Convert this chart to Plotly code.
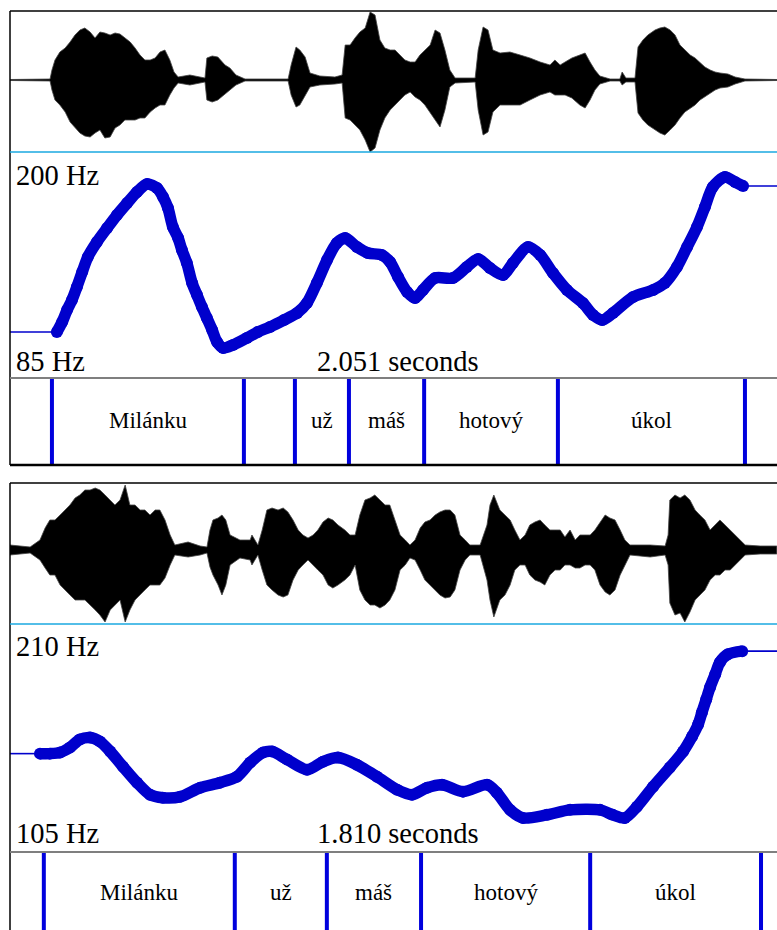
import plotly.graph_objects as go

# ---------------- utterance 1: "Milánku už máš hotový úkol" ----------------
DUR_1 = 2.051
F0_RANGE_1 = (85, 200)

f0_time_1 = [0.124, 0.138, 0.151, 0.164, 0.177, 0.191, 0.206, 0.230, 0.257, 0.283,
             0.310, 0.336, 0.363, 0.389, 0.405, 0.418, 0.431, 0.445, 0.455, 0.468,
             0.482, 0.495, 0.508, 0.521, 0.535, 0.548, 0.564, 0.590, 0.627, 0.656,
             0.688, 0.725, 0.760, 0.786, 0.812, 0.839, 0.865, 0.887, 0.918, 0.947,
             0.984, 1.006, 1.027, 1.051, 1.072, 1.093, 1.125, 1.172, 1.209, 1.239,
             1.270, 1.305, 1.331, 1.371, 1.403, 1.437, 1.474, 1.516, 1.543, 1.567,
             1.596, 1.649, 1.702, 1.733, 1.765, 1.792, 1.818, 1.839, 1.860, 1.892,
             1.919, 1.940]
f0_hz_1 = [108.4, 113.5, 119.6, 124.7, 131.3, 138.9, 146.6, 154.2, 161.3, 167.9,
           174.0, 179.6, 183.7, 181.7, 177.1, 171.5, 161.8, 156.2, 150.1, 143.5,
           133.3, 127.2, 121.1, 115.5, 109.4, 103.3, 100.3, 101.8, 105.4, 108.4,
           111.0, 114.5, 118.1, 123.2, 133.3, 145.0, 153.7, 156.2, 151.7, 148.6,
           147.6, 144.0, 136.4, 128.8, 125.7, 129.8, 135.9, 135.9, 141.5, 145.6,
           141.0, 137.4, 143.5, 151.7, 147.6, 138.4, 129.8, 123.2, 117.1, 114.5,
           118.1, 126.2, 129.8, 133.3, 141.5, 151.7, 161.8, 172.0, 182.2, 187.3,
           184.7, 182.7]

# waveform amplitude envelope (arbitrary sample units)
WAVE_RANGE_1 = (-72, 69)
wave_time_1 = [0.000, 0.106, 0.111, 0.119, 0.132, 0.146, 0.159, 0.172, 0.185, 0.198,
               0.212, 0.225, 0.238, 0.251, 0.265, 0.278, 0.291, 0.304, 0.318, 0.331,
               0.344, 0.357, 0.371, 0.384, 0.397, 0.410, 0.423, 0.434, 0.445, 0.476,
               0.503, 0.516, 0.521, 0.535, 0.550, 0.569, 0.582, 0.598, 0.622, 0.736,
               0.744, 0.757, 0.767, 0.781, 0.794, 0.820, 0.860, 0.879, 0.887, 0.900,
               0.913, 0.926, 0.940, 0.953, 0.966, 0.979, 0.992, 1.006, 1.019, 1.032,
               1.045, 1.059, 1.072, 1.085, 1.098, 1.112, 1.125, 1.138, 1.151, 1.164,
               1.178, 1.231, 1.239, 1.252, 1.265, 1.278, 1.297, 1.323, 1.350, 1.376,
               1.403, 1.429, 1.442, 1.456, 1.469, 1.487, 1.508, 1.522, 1.535, 1.548,
               1.561, 1.588, 1.614, 1.620, 1.630, 1.654, 1.662, 1.675, 1.688, 1.707,
               1.720, 1.733, 1.747, 1.760, 1.773, 1.786, 1.800, 1.813, 1.826, 1.839,
               1.853, 1.866, 1.879, 1.900, 1.919, 1.945, 2.030]
wave_max_1 = [0.5, 1, 10, 20, 28, 32, 38, 45, 50, 52,
              48, 42, 48, 47, 45, 47, 46, 42, 38, 32,
              25, 20, 20, 22, 28, 30, 20, 8, 3, 5,
              3, 2, 22, 24, 23, 15, 12, 5, 1, 1,
              15, 33, 30, 23, 7, 4, 3, 5, 35, 35,
              42, 48, 52, 68, 65, 40, 32, 30, 30, 25,
              20, 18, 18, 25, 30, 35, 50, 47, 30, 10,
              2, 2, 30, 53, 50, 30, 27, 28, 25, 22,
              18, 15, 20, 15, 18, 22, 25, 27, 18, 10,
              4, 1, 1, 8, 2, 2, 33, 40, 45, 50,
              52, 53, 50, 45, 35, 30, 25, 22, 17, 13,
              10, 8, 7, 6, 3, 1, 0.5]
wave_min_1 = [-0.5, -1, -10, -20, -25, -32, -42, -48, -53, -56,
              -57, -53, -50, -58, -57, -48, -45, -40, -40, -40,
              -38, -38, -32, -28, -25, -25, -15, -8, -3, -5,
              -3, -2, -20, -22, -20, -15, -10, -5, -1, -1,
              -15, -27, -25, -15, -7, -5, -4, -3, -38, -40,
              -45, -50, -60, -72, -68, -50, -38, -30, -25, -20,
              -15, -12, -17, -20, -25, -32, -40, -47, -30, -7,
              -3, -2, -30, -55, -52, -32, -25, -25, -25, -20,
              -15, -12, -15, -15, -15, -18, -25, -28, -20, -10,
              -4, -1, -1, -5, -2, -2, -33, -40, -45, -50,
              -53, -55, -50, -45, -38, -32, -28, -25, -20, -17,
              -13, -10, -8, -7, -4, -1, -0.5]

word_bounds_1 = [0.111, 0.619, 0.754, 0.897, 1.096, 1.450, 1.945]
word_labels_1 = ["Milánku", "", "už", "máš", "hotový", "úkol"]

# ---------------- utterance 2 ----------------
DUR_2 = 1.810
F0_RANGE_2 = (105, 210)

f0_time_2 = [0.070, 0.093, 0.117, 0.140, 0.163, 0.187, 0.210, 0.234, 0.264, 0.297,
             0.327, 0.357, 0.397, 0.444, 0.490, 0.530, 0.561, 0.591, 0.612, 0.647,
             0.694, 0.731, 0.766, 0.810, 0.857, 0.904, 0.939, 0.974, 1.009, 1.058,
             1.114, 1.137, 1.168, 1.198, 1.254, 1.308, 1.378, 1.408, 1.436, 1.464,
             1.502, 1.541, 1.572, 1.593, 1.607, 1.616, 1.626, 1.635, 1.647, 1.658,
             1.677, 1.710]
f0_hz_2 = [150.3, 150.3, 150.8, 153.1, 156.8, 157.7, 155.9, 151.3, 144.3, 136.9,
           131.4, 130.0, 130.4, 134.6, 136.9, 139.7, 146.2, 150.8, 151.3, 147.6,
           142.9, 146.6, 148.5, 145.2, 139.7, 133.7, 131.4, 134.6, 136.0, 132.8,
           136.0, 132.3, 124.4, 120.7, 122.1, 124.4, 124.4, 122.1, 120.7, 125.8,
           135.1, 143.9, 151.3, 158.2, 163.7, 169.3, 175.3, 180.9, 186.9, 192.4,
           196.1, 197.5]

WAVE_RANGE_2 = (-74, 67)
wave_time_2 = [0.000, 0.047, 0.070, 0.082, 0.093, 0.105, 0.117, 0.128, 0.140, 0.152,
               0.163, 0.175, 0.187, 0.199, 0.210, 0.222, 0.234, 0.245, 0.257, 0.269,
               0.280, 0.292, 0.304, 0.315, 0.327, 0.339, 0.350, 0.362, 0.374, 0.385,
               0.416, 0.444, 0.460, 0.467, 0.474, 0.486, 0.495, 0.504, 0.514, 0.537,
               0.561, 0.565, 0.579, 0.589, 0.600, 0.612, 0.626, 0.638, 0.649, 0.661,
               0.673, 0.684, 0.696, 0.708, 0.719, 0.731, 0.743, 0.754, 0.766, 0.782,
               0.794, 0.806, 0.817, 0.829, 0.841, 0.852, 0.864, 0.876, 0.887, 0.899,
               0.911, 0.923, 0.934, 0.946, 0.958, 0.969, 0.981, 0.993, 1.004, 1.016,
               1.028, 1.039, 1.051, 1.063, 1.074, 1.098, 1.102, 1.114, 1.121, 1.130,
               1.144, 1.156, 1.168, 1.179, 1.191, 1.203, 1.214, 1.226, 1.238, 1.249,
               1.261, 1.273, 1.285, 1.296, 1.308, 1.320, 1.331, 1.343, 1.355, 1.366,
               1.378, 1.390, 1.401, 1.413, 1.425, 1.436, 1.448, 1.495, 1.530, 1.537,
               1.541, 1.553, 1.565, 1.576, 1.588, 1.600, 1.611, 1.623, 1.635, 1.647,
               1.658, 1.670, 1.682, 1.693, 1.705, 1.717, 1.752, 1.791]
wave_max_2 = [5, 3, 10, 22, 30, 30, 35, 40, 45, 52,
              55, 60, 60, 62, 60, 55, 50, 45, 50, 65,
              45, 45, 40, 40, 35, 40, 40, 30, 15, 5,
              8, 4, 3, 20, 30, 32, 35, 30, 15, 10,
              10, 15, 5, 20, 40, 42, 40, 42, 38, 30,
              20, 15, 12, 15, 20, 28, 32, 30, 25, 20,
              15, 15, 35, 50, 52, 55, 50, 45, 45, 30,
              15, 10, 5, 10, 22, 28, 30, 35, 38, 40,
              40, 35, 15, 10, 5, 5, 10, 25, 45, 55,
              40, 35, 30, 20, 10, 15, 25, 28, 30, 25,
              20, 20, 20, 13, 20, 10, 15, 15, 15, 20,
              28, 35, 32, 30, 20, 10, 5, 5, 4, 15,
              50, 55, 52, 55, 50, 40, 35, 30, 20, 25,
              30, 25, 20, 15, 10, 5, 4, 4]
wave_min_2 = [-5, -3, -10, -18, -25, -25, -35, -40, -45, -50,
              -50, -50, -55, -60, -65, -72, -60, -55, -50, -72,
              -60, -50, -45, -40, -35, -35, -35, -28, -15, -5,
              -7, -5, -3, -17, -25, -35, -45, -35, -15, -8,
              -10, -15, -5, -20, -35, -40, -45, -47, -45, -30,
              -20, -15, -10, -15, -20, -25, -35, -38, -35, -30,
              -25, -15, -40, -50, -55, -55, -58, -55, -50, -40,
              -20, -15, -8, -10, -20, -30, -35, -40, -45, -48,
              -47, -40, -20, -10, -5, -5, -10, -30, -50, -67,
              -50, -45, -35, -20, -15, -15, -25, -30, -32, -35,
              -25, -20, -20, -15, -15, -18, -18, -15, -15, -20,
              -35, -42, -45, -40, -25, -15, -5, -7, -5, -15,
              -53, -65, -63, -72, -62, -50, -45, -40, -30, -25,
              -25, -20, -20, -15, -10, -5, -4, -4]

word_bounds_2 = [0.079, 0.525, 0.740, 0.960, 1.355, 1.754]
word_labels_2 = ["Milánku", "už", "máš", "hotový", "úkol"]

# ---------------- page geometry (pixels) ----------------
W, H = 777, 930
LEFT_PX = 10            # left edge of both drawings
FRAME_RIGHT_PX = 785    # right edge of the drawing frame (just beyond the page)

F0_COLOR = "#0000cc"
TIER_COLOR = "#0000dd"
CYAN = "#1aa9e0"
SERIF = "Liberation Serif, Times New Roman, serif"


def fx(p):
    return p / W


def fy(p):
    return 1 - p / H


panels = [
    dict(dur=DUR_1, rows=(11, 152, 378, 465), bottom_rule=True,
         wave=(wave_time_1, wave_max_1, wave_min_1, WAVE_RANGE_1), baseline=True,
         f0=(f0_time_1, f0_hz_1, F0_RANGE_1),
         hz_label_y=(175, 361), tier=(word_bounds_1, word_labels_1), tier_text_y=420),
    dict(dur=DUR_2, rows=(483, 624, 852, 930), bottom_rule=False,
         wave=(wave_time_2, wave_max_2, wave_min_2, WAVE_RANGE_2), baseline=False,
         f0=(f0_time_2, f0_hz_2, F0_RANGE_2),
         hz_label_y=(646, 833), tier=(word_bounds_2, word_labels_2), tier_text_y=892),
]

fig = go.Figure()
layout_axes = {}
shapes = []
annotations = []

for i, p in enumerate(panels):
    top, wave_bot, f0_bot, tier_bot = p["rows"]
    t_end = p["dur"] * (W - LEFT_PX) / (FRAME_RIGHT_PX - LEFT_PX)
    bands = [(wave_bot, top), (f0_bot, wave_bot), (tier_bot, f0_bot)]
    ids = []
    for j, (b, t) in enumerate(bands):
        k = 3 * i + j + 1
        sfx = "" if k == 1 else str(k)
        ids.append(sfx)
        layout_axes["xaxis" + sfx] = dict(domain=[fx(LEFT_PX), 1], range=[0, t_end],
                                          visible=False, fixedrange=True,
                                          anchor="y" + sfx)
        layout_axes["yaxis" + sfx] = dict(domain=[max(fy(b), 0), fy(t)], visible=False,
                                          fixedrange=True, anchor="x" + sfx)

    # ---- waveform
    wt, wmax, wmin, wrange = p["wave"]
    sw = ids[0]
    layout_axes["yaxis" + sw]["range"] = list(wrange)
    if p["baseline"]:
        fig.add_trace(go.Scatter(x=[0, t_end], y=[0, 0], mode="lines",
                                 line=dict(color="black", width=1),
                                 xaxis="x" + sw, yaxis="y" + sw, hoverinfo="skip"))
    fig.add_trace(go.Scatter(x=wt + wt[::-1], y=wmax + wmin[::-1], mode="lines",
                             fill="toself", fillcolor="black",
                             line=dict(color="#444444", width=0.8),
                             xaxis="x" + sw, yaxis="y" + sw, hoverinfo="skip"))

    # ---- pitch contour
    ft, fhz, frange = p["f0"]
    sp = ids[1]
    layout_axes["yaxis" + sp]["range"] = list(frange)
    for xs, ys in (([0, ft[0]], [fhz[0], fhz[0]]), ([ft[-1], t_end], [fhz[-1], fhz[-1]])):
        fig.add_trace(go.Scatter(x=xs, y=ys, mode="lines",
                                 line=dict(color=F0_COLOR, width=1.6),
                                 xaxis="x" + sp, yaxis="y" + sp, hoverinfo="skip"))
    fig.add_trace(go.Scatter(x=ft, y=fhz, mode="lines+markers",
                             line=dict(color=F0_COLOR, width=11.5, shape="spline", smoothing=0.8),
                             marker=dict(color=F0_COLOR, size=12),
                             xaxis="x" + sp, yaxis="y" + sp, hoverinfo="skip"))

    # ---- word tier
    st = ids[2]
    layout_axes["yaxis" + st]["range"] = [0, 1]
    bounds, labels = p["tier"]
    for b in bounds:
        shapes.append(dict(type="line", xref="x" + st, yref="y" + st + " domain",
                           x0=b, x1=b, y0=0, y1=1,
                           line=dict(color=TIER_COLOR, width=4)))
    for a, b, lab in zip(bounds[:-1], bounds[1:], labels):
        if lab:
            annotations.append(dict(x=(a + b) / 2, xref="x" + st,
                                    y=fy(p["tier_text_y"]), yref="paper",
                                    text=lab, showarrow=False, xanchor="center",
                                    yanchor="middle",
                                    font=dict(family=SERIF, size=23, color="black")))

    # ---- frame rules
    shapes += [
        dict(type="line", xref="paper", yref="paper", x0=fx(LEFT_PX), x1=1,
             y0=fy(top), y1=fy(top), line=dict(color="black", width=1.5)),
        dict(type="line", xref="paper", yref="paper", x0=fx(LEFT_PX), x1=fx(LEFT_PX),
             y0=fy(top), y1=fy(tier_bot), line=dict(color="black", width=1.5)),
        dict(type="line", xref="paper", yref="paper", x0=fx(LEFT_PX), x1=1,
             y0=fy(wave_bot), y1=fy(wave_bot), line=dict(color=CYAN, width=1.5)),
        dict(type="line", xref="paper", yref="paper", x0=fx(LEFT_PX), x1=1,
             y0=fy(f0_bot), y1=fy(f0_bot), line=dict(color="#7f7f7f", width=2)),
    ]
    if p["bottom_rule"]:
        shapes.append(dict(type="line", xref="paper", yref="paper", x0=fx(LEFT_PX), x1=1,
                           y0=fy(tier_bot), y1=fy(tier_bot),
                           line=dict(color="black", width=2.5)))

    # ---- pitch range and duration labels
    hi_y, lo_y = p["hz_label_y"]
    lab_font = dict(family=SERIF, size=28.5, color="black")
    annotations += [
        dict(x=fx(14), y=fy(hi_y), xref="paper", yref="paper", xanchor="left",
             yanchor="middle", text=f"{frange[1]} Hz", showarrow=False, font=lab_font),
        dict(x=fx(14), y=fy(lo_y), xref="paper", yref="paper", xanchor="left",
             yanchor="middle", text=f"{frange[0]} Hz", showarrow=False, font=lab_font),
        dict(x=fx((LEFT_PX + FRAME_RIGHT_PX) / 2), y=fy(lo_y), xref="paper", yref="paper",
             xanchor="center", yanchor="middle", text=f"{p['dur']:.3f} seconds",
             showarrow=False, font=lab_font),
    ]

fig.update_layout(
    width=W, height=H,
    margin=dict(l=0, r=0, t=0, b=0),
    paper_bgcolor="white", plot_bgcolor="rgba(0,0,0,0)",
    showlegend=False,
    shapes=shapes, annotations=annotations,
    **layout_axes,
)

fig.write_html("out.html")
